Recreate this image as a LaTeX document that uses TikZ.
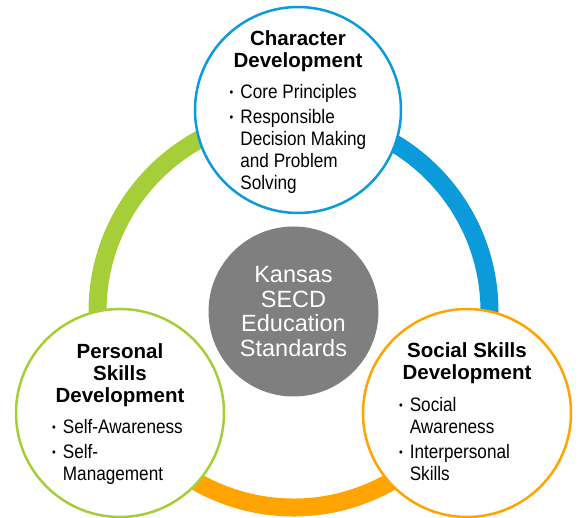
\documentclass[tikz,border=0pt]{standalone}
\usepackage{fontspec}
\setmainfont{Liberation Sans}
\newfontfamily\narrowfont[FakeStretch=0.88]{Liberation Sans}
\usepackage{tikz}
\usetikzlibrary{positioning}

\definecolor{ksgreen}{HTML}{A6CE39}
\definecolor{ksblue}{HTML}{0B9BDB}
\definecolor{ksorange}{HTML}{FFA400}
\definecolor{ksgray}{HTML}{7F7F7F}

% small bullet for the lists
\newcommand{\ksdot}{\raisebox{2pt}{\fontsize{12}{12}\selectfont\textbullet}}

\begin{document}
\begin{tikzpicture}[x=1pt, y=1pt,
    bubble/.style={circle, draw, fill=white, line width=2.5pt, inner sep=0pt},
    ring/.style={line width=18pt},
    title/.style={align=center, inner sep=0pt, font=\bfseries\fontsize{20.5}{22}\selectfont},
    items/.style={inner sep=0pt, font=\narrowfont\fontsize{19.5}{22}\selectfont}]

    \useasboundingbox (0,0) rectangle (579,518);

    % coloured ring behind the circles
    \coordinate (hub) at (293.5,206.5);
    \draw[ring, ksgreen] ([shift={(90:196)}]hub) arc[start angle=90, end angle=210, radius=196];
    \draw[ring, ksblue] ([shift={(90:196)}]hub) arc[start angle=90, end angle=-30, radius=196];
    \draw[ring, ksorange] ([shift={(210:196)}]hub) arc[start angle=210, end angle=330, radius=196];

    % centre circle
    \node[circle, fill=ksgray, minimum size=170pt, inner sep=0pt, text=white, align=center,
        font=\fontsize{23.5}{24.5}\selectfont] (kansas) at (hub) {Kansas\\SECD\\Education\\Standards};

    % three outer circles
    \node[bubble, draw=ksblue, minimum size=206pt] (char) at (298,408) {};
    \node[bubble, draw=ksgreen, minimum size=208pt] (pers) at (120,105) {};
    \node[bubble, draw=ksorange, minimum size=208pt] (soc) at (467,105) {};

    % top circle text
    \node[title, below=25pt of char.north] (chart) {Character\\Development};
    \node[items, below=11pt of chart] (charl) {\begin{tabular}{@{}c@{\hspace{7pt}}l@{}}
        \ksdot & Core Principles\\[3pt]
        \ksdot & Responsible\\
        & Decision Making\\
        & and Problem\\
        & Solving
    \end{tabular}};

    % left circle text
    \node[title, below=36pt of pers.north] (perst) {Personal\\Skills\\Development};
    \node[items, below=11pt of perst, xshift=-2.5pt] (persl) {\begin{tabular}{@{}c@{\hspace{7pt}}l@{}}
        \ksdot & Self-Awareness\\[3pt]
        \ksdot & Self-\\
        & Management
    \end{tabular}};

    % right circle text
    \node[title, below=35pt of soc.north] (soct) {Social Skills\\Development};
    \node[items, below=12pt of soct, xshift=-12.5pt] (socl) {\begin{tabular}{@{}c@{\hspace{7pt}}l@{}}
        \ksdot & Social\\
        & Awareness\\[3pt]
        \ksdot & Interpersonal\\
        & Skills
    \end{tabular}};

\end{tikzpicture}
\end{document}
